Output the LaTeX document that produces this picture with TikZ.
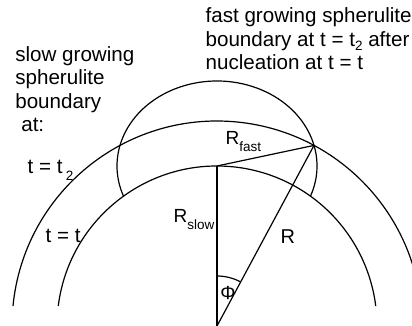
\documentclass[tikz,border=0pt]{standalone}
\usepackage{fontspec}
\setmainfont{Liberation Sans}
\newcommand{\lowidx}[2][7pt]{\raisebox{-#1}{\fontsize{13.5}{13.5}\selectfont #2}}
\tikzset{lbl/.style={inner sep=0pt, font=\fontsize{20.6}{23.5}\selectfont}}
\begin{document}
\begin{tikzpicture}[x=1pt,y=1pt,line width=1.2pt]
\useasboundingbox (-217,0) rectangle (195,326);
\clip (-217,0) rectangle (195,326);
\coordinate (O) at (0,0);
\coordinate (C) at (0,160);
\coordinate (P) at (97,180.6);
% spherulite boundaries
\draw (174.4:205) arc[start angle=174.4,end angle=0,radius=205pt];
\draw (172.8:160) arc[start angle=172.8,end angle=7.2,radius=160pt];
\draw (C) ++(-20.8:100pt and 85pt) arc[start angle=-20.8,end angle=200.8,x radius=100pt,y radius=85pt];
% radii
\draw (O) -- (C);
\draw (C) -- (P);
\draw (O) -- (P);
\draw ([shift={(90:50)}]O) arc[start angle=90,end angle=61.8,radius=50pt];
\node[lbl,anchor=base west,align=left] (slowtxt) at (-202.3,194) {slow growing\\spherulite\\boundary\\\hspace*{6pt}at:};
\node[lbl,anchor=base west,align=left] (fasttxt) at (-12,256) {fast growing spherulite\\boundary at t = t\lowidx[4pt]{2} after\\nucleation at t = t};
\node[lbl,anchor=base west] (ttwo) at (-190,152) {t = t\,\lowidx{2}};
\node[lbl,anchor=base west] (tone) at (-172,83) {t = t};
\node[lbl,anchor=base west,font=\fontsize{19}{19}\selectfont] (Rfast) at (8,181) {R\lowidx{fast}};
\node[lbl,anchor=base east,font=\fontsize{19}{19}\selectfont] (Rslow) at (-2,103) {R\lowidx{slow}};
\node[lbl,anchor=base west,font=\fontsize{20}{20}\selectfont] (Rtot) at (63,82) {R};
\node[lbl,font=\fontsize{19}{19}\selectfont] (phi) at (11,33) {Φ};
\end{tikzpicture}
\end{document}
